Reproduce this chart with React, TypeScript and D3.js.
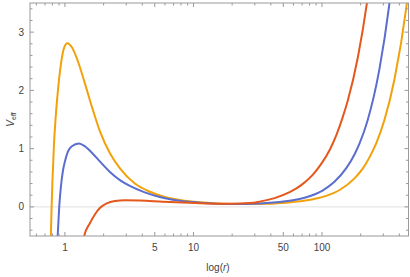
import React from "react";
import * as d3 from "d3";

// r values and V_eff, one pair of arrays per curve
const orangeR = [0.772, 0.778, 0.788, 0.8, 0.821, 0.845, 0.887, 0.931, 0.982, 1.046, 1.133, 1.262, 1.43, 1.62, 1.87, 2.24, 2.68, 3.5, 4.58, 5.98, 8.56, 13.4, 22.9, 39.2, 51.2, 67.0, 95.8, 137, 179, 208, 234, 264, 306, 367, 452, 497];
const orangeV = [-1.0, -0.5, 0.0, 0.45, 1.05, 1.5, 2.05, 2.45, 2.72, 2.81, 2.74, 2.5, 2.12, 1.72, 1.3, 0.92, 0.66, 0.4, 0.26, 0.17, 0.105, 0.068, 0.05, 0.052, 0.07, 0.095, 0.156, 0.29, 0.49, 0.66, 0.85, 1.09, 1.49, 2.2, 3.41, 4.19];

const blueR = [0.87, 0.878, 0.903, 0.931, 0.965, 1.0, 1.055, 1.133, 1.285, 1.43, 1.62, 1.87, 2.24, 2.68, 3.2, 4.18, 5.47, 7.83, 11.2, 19.1, 32.7, 46.8, 56.0, 73.3, 101, 125, 154, 179, 196, 226, 280, 331, 367];
const blueV = [-0.7, -0.5, 0.0, 0.35, 0.62, 0.78, 0.95, 1.04, 1.09, 1.04, 0.93, 0.78, 0.6, 0.46, 0.36, 0.25, 0.17, 0.105, 0.072, 0.05, 0.06, 0.084, 0.105, 0.158, 0.28, 0.43, 0.66, 0.9, 1.09, 1.48, 2.37, 3.41, 4.27];

const redR = [1.356, 1.413, 1.564, 1.71, 1.87, 2.12, 2.45, 2.93, 3.83, 5.77, 9.36, 19.1, 27.4, 32.7, 42.8, 56.0, 69.4, 85.0, 99.3, 115, 130, 145, 159, 190, 227, 247];
const redV = [-1.0, -0.5, -0.28, -0.13, -0.02, 0.06, 0.1, 0.115, 0.11, 0.09, 0.07, 0.052, 0.065, 0.09, 0.151, 0.252, 0.378, 0.555, 0.746, 0.98, 1.243, 1.54, 1.83, 2.565, 3.6, 4.23];

const xLabeled = [1, 5, 10, 50, 100];
const xMinor = [0.6, 0.7, 0.8, 0.9, 2, 3, 4, 6, 7, 8, 9, 20, 30, 40, 60, 70, 80, 90, 200, 300, 400];
const yLabeled = [0, 1, 2, 3];

const W = 410;
const H = 277;
const left = 30;
const right = 408.5;
const top = 3;
const bottom = 236;

export default function App() {
  const x = d3.scaleLog().domain([0.535, 471]).range([left, right]);
  const y = d3.scaleLinear().domain([-0.5, 3.5]).range([bottom, top]);

  const line = d3
    .line<[number, number]>()
    .x((d) => x(d[0]))
    .y((d) => y(d[1]))
    .curve(d3.curveMonotoneX);

  const series = [
    { r: orangeR, v: orangeV, color: "#F2A10A" },
    { r: blueR, v: blueV, color: "#5B6ECF" },
    { r: redR, v: redV, color: "#E4581C" },
  ];

  const yMinor = d3.range(-0.4, 3.5, 0.2).filter((t) => Math.abs(t - Math.round(t)) > 0.01);
  const frame = "#999";
  const txt = "#444";

  return (
    <div style={{ position: "absolute", left: 0, top: 0 }}>
      <svg width={W} height={H} style={{ display: "block", fontFamily: "Liberation Sans, Arial, sans-serif" }}>
        <defs>
          <clipPath id="plot">
            <rect x={left} y={top} width={right - left} height={bottom - top} />
          </clipPath>
        </defs>
        <line x1={left} x2={right} y1={y(0)} y2={y(0)} stroke="#e0e0e0" strokeWidth={1} />
        <g clipPath="url(#plot)" fill="none" strokeWidth={2}>
          {series.map((s, i) => (
            <path key={i} d={line(s.r.map((r, j) => [r, s.v[j]]) as [number, number][]) || ""} stroke={s.color} />
          ))}
        </g>
        <rect x={left} y={top} width={right - left} height={bottom - top} fill="none" stroke={frame} strokeWidth={1} />
        <g stroke={frame} strokeWidth={1}>
          {xLabeled.map((t) => (
            <g key={"xl" + t}>
              <line x1={x(t)} x2={x(t)} y1={bottom} y2={bottom - 4} />
              <line x1={x(t)} x2={x(t)} y1={top} y2={top + 4} />
            </g>
          ))}
          {xMinor.map((t) => (
            <g key={"xm" + t}>
              <line x1={x(t)} x2={x(t)} y1={bottom} y2={bottom - 2.5} />
              <line x1={x(t)} x2={x(t)} y1={top} y2={top + 2.5} />
            </g>
          ))}
          {yLabeled.map((t) => (
            <g key={"yl" + t}>
              <line x1={left} x2={left + 4} y1={y(t)} y2={y(t)} />
              <line x1={right} x2={right - 4} y1={y(t)} y2={y(t)} />
            </g>
          ))}
          {yMinor.map((t, i) => (
            <g key={"ym" + i}>
              <line x1={left} x2={left + 2.5} y1={y(t)} y2={y(t)} />
              <line x1={right} x2={right - 2.5} y1={y(t)} y2={y(t)} />
            </g>
          ))}
        </g>
        <g fontSize={10} fill={txt}>
          {xLabeled.map((t) => (
            <text key={"xt" + t} x={x(t)} y={bottom + 15} textAnchor="middle">
              {t}
            </text>
          ))}
          {yLabeled.map((t) => (
            <text key={"yt" + t} x={left - 6} y={y(t) + 3.5} textAnchor="end">
              {t}
            </text>
          ))}
          <text x={218} y={271} textAnchor="middle">
            log(<tspan fontStyle="italic">r</tspan>)
          </text>
          <text transform={`translate(14,${(top + bottom) / 2}) rotate(-90)`} textAnchor="middle">
            <tspan fontStyle="italic">V</tspan>
            <tspan fontSize={7} dy={2}>eff</tspan>
          </text>
        </g>
      </svg>
    </div>
  );
}
